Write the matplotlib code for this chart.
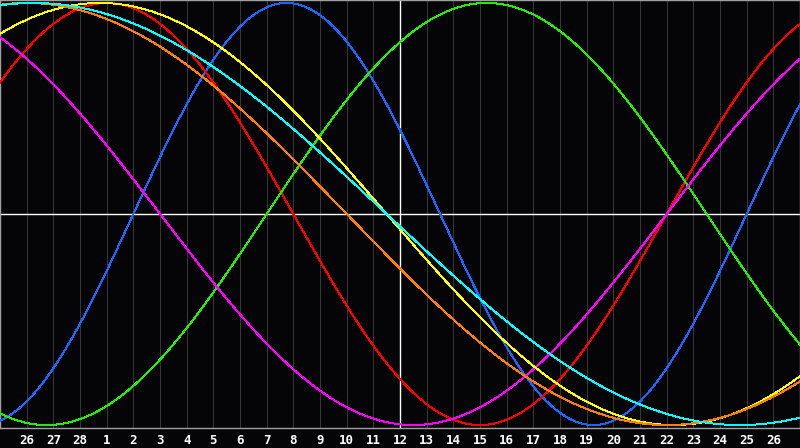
import matplotlib
matplotlib.use("Agg")
import matplotlib.pyplot as plt
import numpy as np

# day labels along the bottom (end of Feb -> March)
day_labels = ["26", "27", "28"] + [str(d) for d in range(1, 27)]

# biorhythm cycles
cycle_names = ["Physical", "Emotional", "Intellectual", "Intuitive",
               "Aesthetic", "Awareness", "Spiritual"]
cycle_periods = [23, 28, 33, 38, 43, 48, 53]
cycle_colors = ["#1a66ff", "#ff0000", "#22ee00", "#ff00ff",
                "#ffff00", "#ff7f00", "#00ffff"]

days_alive_at_start = 23916   # days since birth at the first label
today_index = 14              # "12" is today

bg = "#050508"
fig = plt.figure(figsize=(8, 4.48), dpi=100, facecolor=bg)
ax = fig.add_axes([0, 20 / 448, 1, 428 / 448])
ax.set_facecolor(bg)
ax.set_xlim(-1, 29)
ax.set_ylim(-1.014, 1.014)

for i in range(len(day_labels)):
    ax.axvline(i, color="#3a3a3a", lw=0.7, zorder=1)
ax.axhline(0, color="white", lw=1.0, zorder=2)
ax.axvline(today_index, color="white", lw=1.0, zorder=2)

t = np.linspace(-1, 29, 1500)
for name, period, color in zip(cycle_names, cycle_periods, cycle_colors):
    y = np.sin(2 * np.pi * (days_alive_at_start + t) / period)
    ax.plot(t, y, color=color, lw=0.7, antialiased=False, zorder=3, label=name)

ax.set_xticks(range(len(day_labels)))
ax.set_xticklabels(day_labels, color="white", fontweight="bold",
                   fontfamily="DejaVu Sans Mono", fontsize=9)
ax.tick_params(axis="x", length=0, pad=4)
ax.set_yticks([])
for side in ["left", "right", "top", "bottom"]:
    ax.spines[side].set_color("#a0a0a0")
    ax.spines[side].set_linewidth(1.0)

fig.savefig("out.png", dpi=100, facecolor=bg)
